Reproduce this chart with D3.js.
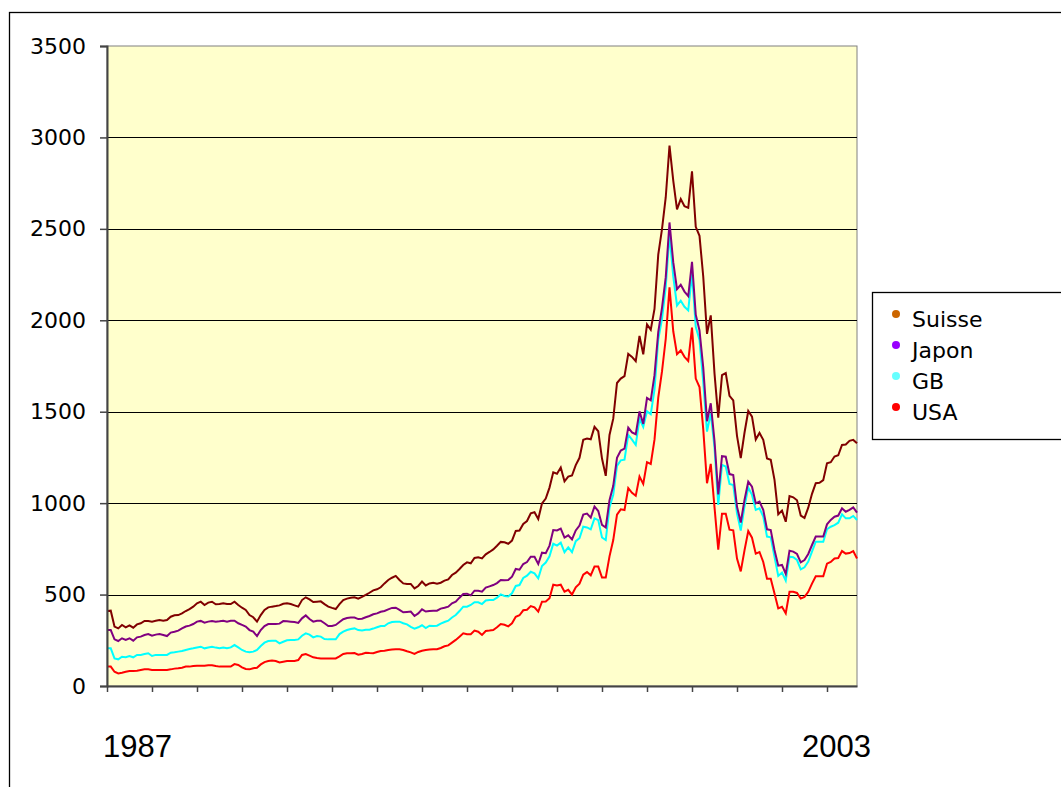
<!DOCTYPE html>
<html>
<head>
<meta charset="utf-8">
<script src="https://cdn.jsdelivr.net/npm/d3@7/dist/d3.min.js"></script>
<style>
  body { margin: 0; background: #fff; }
  svg { display: block; }
</style>
</head>
<body>
<svg id="chart" width="1061" height="787"></svg>
<script>
// monthly values, 1987 .. 2003 (201 points)
var suisse = [410,412,325,315,334,321,332,319,337,343,356,356,352,357,361,357,361,379,387,388,
  397,410,421,434,452,461,443,456,461,447,448,452,448,448,461,443,428,416,388,376,
  352,388,416,430,434,437,441,450,452,448,441,434,470,485,474,459,461,463,448,434,
  427,421,448,470,478,483,485,478,487,498,510,523,529,540,561,580,592,602,580,
  561,558,558,534,547,571,550,561,565,560,565,576,583,607,620,640,662,676,671,700,
  704,698,720,733,747,767,788,786,778,795,848,850,886,902,944,950,913,999,1025,
  1085,1169,1161,1195,1119,1145,1151,1208,1248,1347,1353,1349,1417,1393,1244,1149,1373,1462,1657,1681,
  1695,1816,1800,1776,1915,1814,1978,1949,2062,2359,2498,2673,2955,2764,2607,2663,2624,2615,2815,2511,
  2462,2238,
  1926,2027,1710,1468,1700,1711,1587,1562,1368,1246,1385,1504,1473,1348,1384,1346,1244,1237,1127,939,
  959,898,1039,1032,1016,932,919,975,1051,1109,1111,1126,1218,1224,1255,1262,1318,1321,1341,1346,1328];

var japon = [306,306,255,246,261,252,261,248,266,270,279,284,275,281,284,279,273,292,297,303,
  315,325,330,339,352,356,346,352,356,352,354,357,352,357,357,343,334,325,306,297,
  273,306,328,339,339,339,341,355,354,352,350,345,370,386,366,352,357,357,343,328,
  328,334,350,365,372,374,374,366,368,376,383,392,397,406,410,419,427,428,416,
  403,405,407,383,397,419,407,410,412,412,423,428,434,452,461,483,503,505,496,521,
  521,516,538,545,552,563,580,578,580,598,640,636,667,678,707,707,667,729,726,
  768,853,851,861,812,824,802,851,877,937,943,921,982,957,881,867,1016,1095,1248,1288,
  1298,1413,1387,1377,1502,1433,1575,1562,1700,1935,2068,2236,2535,2318,2170,2194,2157,2132,2320,2031,
  1944,1741,
  1448,1546,1340,1048,1257,1254,1159,1154,981,894,1017,1118,1090,999,1008,963,857,853,744,658,
  662,613,740,735,722,676,689,722,771,817,817,817,884,908,926,932,972,953,963,977,948];

var gb = [206,206,151,146,160,157,164,157,170,170,175,179,164,170,170,170,170,182,184,188,
  191,197,202,206,211,215,206,211,215,210,206,211,206,211,224,211,197,188,184,188,
  197,219,237,246,248,248,233,242,250,252,252,255,275,288,281,266,273,270,257,255,
  255,255,284,297,306,312,315,306,303,308,308,314,321,328,328,343,350,352,352,
  343,337,323,314,321,332,317,330,328,330,341,350,357,375,388,410,434,434,443,458,
  458,448,468,470,470,483,501,492,490,507,547,552,591,603,625,616,589,656,675,
  709,778,768,784,732,758,732,792,808,871,867,857,917,907,812,798,976,1046,1204,1234,
  1238,1373,1347,1318,1462,1417,1502,1486,1621,1895,2008,2181,2470,2240,2081,2107,2074,2054,2256,1964,
  1893,1661,
  1391,1491,1305,990,1209,1200,1105,1099,944,850,981,1085,1045,963,972,926,817,813,707,602,
  620,576,707,704,689,638,649,680,735,789,789,789,857,871,880,893,939,917,917,930,908];

var usa = [106,106,78,69,73,78,82,82,84,88,91,91,88,88,88,88,88,91,95,97,
  100,106,106,109,111,111,111,113,113,109,106,106,106,106,120,115,102,93,91,97,
  100,118,131,137,139,137,129,133,137,137,137,142,170,175,166,157,153,151,151,151,
  151,151,162,175,179,179,180,171,175,182,180,179,186,191,193,197,199,201,201,
  197,190,184,175,186,193,197,199,201,201,208,217,222,237,252,270,288,283,283,303,
  297,279,301,303,306,321,339,335,326,343,379,387,414,417,437,430,407,461,462,
  480,554,550,554,516,526,500,540,560,609,623,605,653,653,593,593,709,798,937,966,
  962,1082,1056,1040,1145,1105,1224,1214,1347,1577,1720,1899,2180,1940,1815,1835,1800,1778,1960,1681,
  1635,1403,
  1109,1215,978,746,942,942,855,851,697,627,742,847,811,724,733,678,587,587,506,424,
  433,397,515,515,509,478,487,515,560,600,600,600,669,678,697,700,738,724,727,738,697];

var seriesNames = ["Suisse", "Japon", "GB", "USA"];
var lineColors = ["#800000", "#800080", "#00ffff", "#ff0000"];
var legendColors = ["#cc6600", "#9900ff", "#66ffff", "#ff0000"];
var yTicks = [0, 500, 1000, 1500, 2000, 2500, 3000, 3500];
var yearLabels = ["1987", "2003"];

var svg = d3.select("#chart");
var plotLeft = 107, plotRight = 857, plotTop = 46, plotBottom = 686;

var x = d3.scaleLinear().domain([0, suisse.length - 1]).range([plotLeft, plotRight]);
var y = d3.scaleLinear().domain([0, 3500]).range([plotBottom, plotTop]);

// outer chart frame
svg.append("rect")
  .attr("x", 9.5).attr("y", 12.5)
  .attr("width", 1100).attr("height", 900)
  .attr("fill", "#fff").attr("stroke", "#000").attr("stroke-width", 1.3);

// plot area
svg.append("rect")
  .attr("x", plotLeft).attr("y", plotTop)
  .attr("width", plotRight - plotLeft).attr("height", plotBottom - plotTop)
  .attr("fill", "#ffffcc").attr("stroke", "#808080").attr("stroke-width", 1);

// gridlines
svg.append("g").selectAll("line")
  .data(yTicks.filter(function(d) { return d > 0 && d < 3500; }))
  .enter().append("line")
  .attr("x1", plotLeft).attr("x2", plotRight)
  .attr("y1", function(d) { return Math.round(y(d)) + 0.5; })
  .attr("y2", function(d) { return Math.round(y(d)) + 0.5; })
  .attr("stroke", "#000").attr("stroke-width", 1);

// lines (USA drawn first, Suisse on top)
var allSeries = [suisse, japon, gb, usa];
var line = d3.line()
  .x(function(d, i) { return x(i); })
  .y(function(d) { return y(d); });

for (var k = allSeries.length - 1; k >= 0; k--) {
  svg.append("path")
    .attr("d", line(allSeries[k]))
    .attr("fill", "none")
    .attr("stroke", lineColors[k])
    .attr("stroke-width", 2)
    .attr("stroke-linejoin", "miter");
}

// y axis
var yAxis = svg.append("g")
  .attr("transform", "translate(" + plotLeft + ",0)")
  .call(d3.axisLeft(y).tickValues(yTicks).tickSize(7).tickPadding(14).tickFormat(d3.format("d")));
yAxis.select(".domain").attr("stroke", "#444").attr("stroke-width", 2);
yAxis.selectAll(".tick line").attr("stroke", "#444").attr("stroke-width", 1.5);
yAxis.selectAll("text")
  .attr("font-family", "DejaVu Sans, Verdana, sans-serif")
  .attr("font-size", 22).attr("fill", "#000");

// x axis, one tick per year
var xAxis = svg.append("g")
  .attr("transform", "translate(0," + plotBottom + ")")
  .call(d3.axisBottom(x).tickValues(d3.range(0, suisse.length - 1, 12)).tickSize(6).tickSizeOuter(0).tickFormat(""));
xAxis.select(".domain").attr("stroke", "#444").attr("stroke-width", 2);
xAxis.selectAll(".tick line").attr("stroke", "#444").attr("stroke-width", 1.5);

// first / last year labels
svg.append("text")
  .attr("x", x(0) - 4).attr("y", 757)
  .attr("font-family", "Liberation Sans, Arial, sans-serif")
  .attr("font-size", 31)
  .text(yearLabels[0]);
svg.append("text")
  .attr("x", x(suisse.length - 1) + 14).attr("y", 757)
  .attr("text-anchor", "end")
  .attr("font-family", "Liberation Sans, Arial, sans-serif")
  .attr("font-size", 31)
  .text(yearLabels[1]);

// legend
var legend = svg.append("g");
legend.append("rect")
  .attr("x", 872.5).attr("y", 292.5)
  .attr("width", 300).attr("height", 147)
  .attr("fill", "#fff").attr("stroke", "#000").attr("stroke-width", 1.3);
var item = legend.selectAll(".item")
  .data(seriesNames)
  .enter().append("g")
  .attr("transform", function(d, i) { return "translate(0," + (327 + i * 31) + ")"; });
item.append("circle")
  .attr("cx", 896).attr("cy", -13).attr("r", 4)
  .attr("fill", function(d, i) { return legendColors[i]; });
item.append("text")
  .attr("x", 912).attr("y", 0)
  .attr("font-family", "DejaVu Sans, Verdana, sans-serif")
  .attr("font-size", 22)
  .text(function(d) { return d; });
</script>
</body>
</html>
